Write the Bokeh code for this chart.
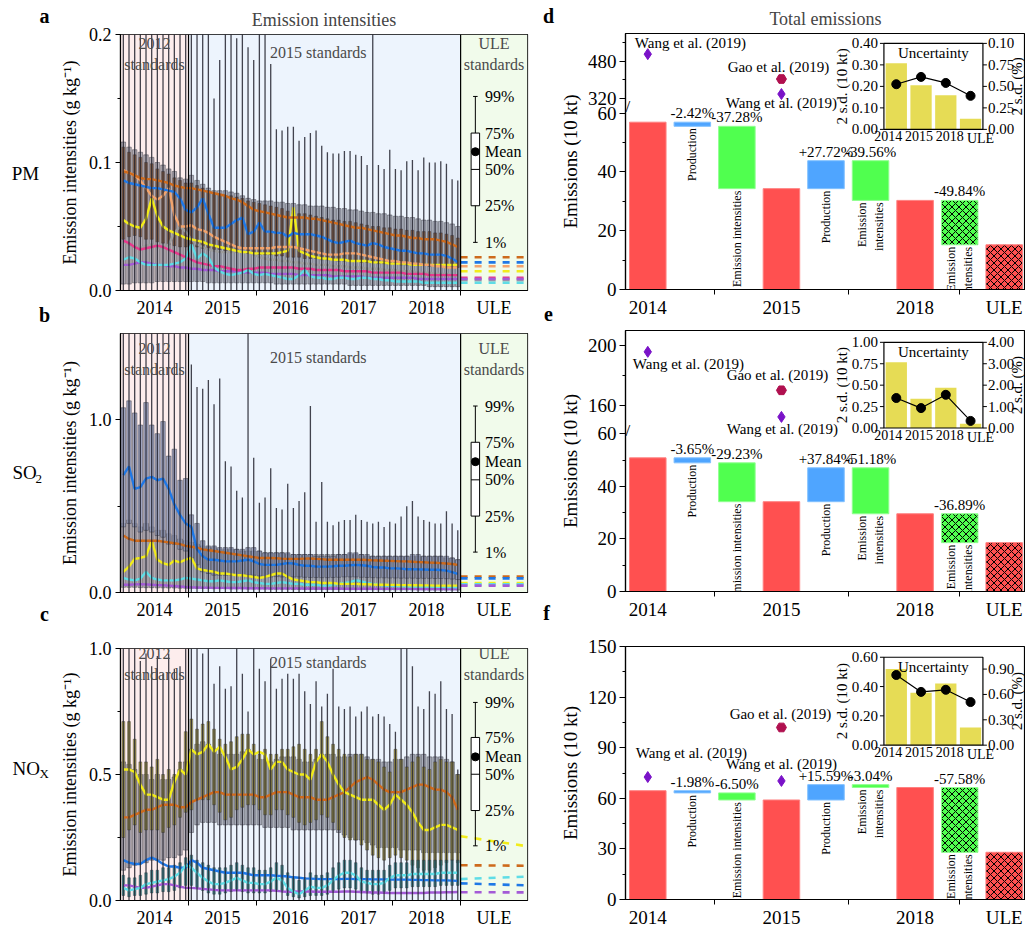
import math
from bokeh.plotting import figure
from bokeh.layouts import row, column
from bokeh.models import (Range1d, FixedTicker, Label, BoxAnnotation, Span, NumeralTickFormatter)
from bokeh.core.properties import value
from bokeh.embed import file_html
from bokeh.resources import INLINE

FONT = "Liberation Serif"

# ------------------------------------------------------------------ data
years = ["2014", "2015", "2016", "2017", "2018"]
ule_name = "ULE"

# ---- PM (g/kg), monthly Jan-2014 .. Dec-2018
pm_whisk_hi = [0.21] * 12 + [
    0.21, 0.21, 0.21, 0.21, 0.150, 0.180, 0.21, 0.21, 0.197, 0.21, 0.190, 0.180,
    0.21, 0.21, 0.177, 0.126, 0.125, 0.128, 0.128, 0.117, 0.120, 0.123, 0.125, 0.113,
    0.108, 0.107, 0.107, 0.109, 0.109, 0.106, 0.105, 0.098, 0.21, 0.098, 0.095, 0.110,
    0.095, 0.094, 0.101, 0.102, 0.094, 0.104, 0.100, 0.100, 0.101, 0.099, 0.087, 0.086]
pm_gray_hi = [
    0.116, 0.112, 0.110, 0.108, 0.106, 0.104, 0.100, 0.098, 0.095, 0.093, 0.088, 0.087,
    0.090, 0.086, 0.083, 0.080, 0.078, 0.078, 0.078, 0.077, 0.076, 0.074, 0.072, 0.071,
    0.070, 0.070, 0.070, 0.069, 0.069, 0.068, 0.068, 0.067, 0.067, 0.066, 0.066, 0.066,
    0.065, 0.065, 0.064, 0.064, 0.063, 0.063, 0.062, 0.061, 0.061, 0.060, 0.060, 0.059,
    0.058, 0.058, 0.057, 0.057, 0.056, 0.055, 0.055, 0.054, 0.054, 0.053, 0.052, 0.050]
pm_gray_lo = [
    0.005, 0.005, 0.006, 0.006, 0.006, 0.006, 0.007, 0.007, 0.007, 0.007, 0.007, 0.007,
    0.007, 0.007, 0.007, 0.006, 0.006, 0.006, 0.006, 0.006, 0.006, 0.006, 0.006, 0.006,
    0.006, 0.006, 0.006, 0.005, 0.005, 0.005, 0.005, 0.005, 0.005, 0.005, 0.005, 0.005,
    0.005, 0.005, 0.005, 0.005, 0.004, 0.004, 0.004, 0.004, 0.004, 0.004, 0.004, 0.004,
    0.004, 0.004, 0.004, 0.004, 0.004, 0.004, 0.003, 0.003, 0.003, 0.003, 0.003, 0.003]
pm_brbox_hi = [
    0.112, 0.108, 0.106, 0.104, 0.100, 0.099, 0.095, 0.093, 0.091, 0.088, 0.086, 0.084,
    0.084, 0.082, 0.080, 0.078, 0.076, 0.075, 0.074, 0.074, 0.073, 0.072, 0.070, 0.069,
    0.068, 0.067, 0.066, 0.065, 0.064, 0.062, 0.061, 0.060, 0.060, 0.059, 0.058, 0.057,
    0.056, 0.055, 0.055, 0.054, 0.054, 0.053, 0.052, 0.051, 0.050, 0.050, 0.049, 0.049,
    0.048, 0.048, 0.047, 0.047, 0.046, 0.046, 0.046, 0.045, 0.045, 0.044, 0.043, 0.041]
pm_brbox_lo = [
    0.040, 0.042, 0.043, 0.042, 0.040, 0.040, 0.038, 0.037, 0.036, 0.035, 0.034, 0.034,
    0.034, 0.034, 0.033, 0.033, 0.032, 0.032, 0.031, 0.031, 0.030, 0.030, 0.029, 0.029,
    0.028, 0.028, 0.028, 0.027, 0.027, 0.026, 0.026, 0.026, 0.025, 0.025, 0.025, 0.024,
    0.024, 0.024, 0.023, 0.023, 0.023, 0.023, 0.022, 0.022, 0.022, 0.021, 0.021, 0.021,
    0.021, 0.020, 0.020, 0.020, 0.020, 0.020, 0.019, 0.019, 0.019, 0.019, 0.018, 0.018]
pm_brown = [
    0.093, 0.092, 0.090, 0.088, 0.087, 0.087, 0.086, 0.085, 0.084, 0.082, 0.081, 0.080,
    0.080, 0.079, 0.078, 0.077, 0.076, 0.075, 0.074, 0.072, 0.071, 0.069, 0.066, 0.063,
    0.062, 0.061, 0.060, 0.059, 0.058, 0.057, 0.057, 0.057, 0.057, 0.056, 0.056, 0.055,
    0.054, 0.053, 0.052, 0.051, 0.050, 0.049, 0.049, 0.048, 0.047, 0.046, 0.045, 0.044,
    0.043, 0.043, 0.042, 0.041, 0.041, 0.040, 0.040, 0.040, 0.039, 0.038, 0.036, 0.034]
pm_blue = [
    0.086, 0.084, 0.083, 0.082, 0.081, 0.080, 0.080, 0.079, 0.078, 0.077, 0.072, 0.063,
    0.061, 0.065, 0.072, 0.060, 0.049, 0.049, 0.049, 0.052, 0.055, 0.057, 0.044, 0.046,
    0.053, 0.046, 0.046, 0.045, 0.045, 0.042, 0.045, 0.044, 0.044, 0.044, 0.043, 0.042,
    0.040, 0.038, 0.037, 0.038, 0.039, 0.037, 0.036, 0.035, 0.037, 0.036, 0.034, 0.033,
    0.032, 0.031, 0.031, 0.030, 0.029, 0.029, 0.028, 0.028, 0.028, 0.027, 0.025, 0.022]
pm_peach = [
    0.094, 0.092, 0.090, 0.086, 0.080, 0.074, 0.071, 0.074, 0.080, 0.059, 0.050, 0.050,
    0.051, 0.048, 0.047, 0.045, 0.042, 0.040, 0.038, 0.036, 0.034, 0.033, 0.033, 0.033,
    0.033, 0.033, 0.033, 0.034, 0.034, 0.034, 0.034, 0.033, 0.032, 0.031, 0.030, 0.029,
    0.028, 0.028, 0.028, 0.029, 0.029, 0.029, 0.028, 0.027, 0.026, 0.025, 0.024, 0.023,
    0.023, 0.022, 0.022, 0.021, 0.021, 0.020, 0.020, 0.019, 0.019, 0.018, 0.018, 0.018]
pm_yellow = [
    0.055, 0.052, 0.050, 0.049, 0.056, 0.072, 0.058, 0.050, 0.047, 0.045, 0.043, 0.041,
    0.040, 0.039, 0.038, 0.036, 0.035, 0.034, 0.033, 0.032, 0.031, 0.030, 0.030, 0.029,
    0.029, 0.029, 0.029, 0.029, 0.030, 0.031, 0.065, 0.031, 0.029, 0.027, 0.026, 0.025,
    0.025, 0.024, 0.024, 0.024, 0.023, 0.023, 0.023, 0.023, 0.022, 0.022, 0.022, 0.021,
    0.021, 0.021, 0.021, 0.020, 0.020, 0.020, 0.020, 0.020, 0.020, 0.020, 0.020, 0.020]
pm_pink = [
    0.039, 0.037, 0.034, 0.032, 0.033, 0.034, 0.035, 0.034, 0.032, 0.030, 0.028, 0.026,
    0.024, 0.022, 0.021, 0.020, 0.019, 0.019, 0.018, 0.017, 0.016, 0.016, 0.017, 0.017,
    0.018, 0.018, 0.018, 0.018, 0.018, 0.018, 0.018, 0.017, 0.017, 0.017, 0.016, 0.016,
    0.016, 0.016, 0.016, 0.015, 0.015, 0.015, 0.015, 0.015, 0.014, 0.014, 0.014, 0.014,
    0.014, 0.014, 0.013, 0.013, 0.013, 0.013, 0.012, 0.012, 0.012, 0.012, 0.012, 0.012]
pm_gray = [
    0.038, 0.036, 0.034, 0.033, 0.035, 0.036, 0.034, 0.033, 0.036, 0.045, 0.050, 0.046,
    0.040, 0.036, 0.034, 0.032, 0.031, 0.030, 0.030, 0.030, 0.031, 0.031, 0.030, 0.028,
    0.026, 0.025, 0.024, 0.024, 0.023, 0.023, 0.022, 0.022, 0.021, 0.021, 0.020, 0.020,
    0.020, 0.019, 0.019, 0.019, 0.018, 0.018, 0.018, 0.017, 0.017, 0.017, 0.016, 0.016,
    0.016, 0.015, 0.015, 0.015, 0.014, 0.014, 0.014, 0.013, 0.013, 0.013, 0.012, 0.012]
pm_cyan = [
    0.024, 0.026, 0.025, 0.022, 0.020, 0.020, 0.020, 0.020, 0.020, 0.021, 0.022, 0.025,
    0.036, 0.025, 0.029, 0.026, 0.018, 0.015, 0.013, 0.012, 0.013, 0.014, 0.016, 0.013,
    0.012, 0.013, 0.012, 0.011, 0.010, 0.009, 0.009, 0.012, 0.016, 0.011, 0.010, 0.010,
    0.009, 0.009, 0.010, 0.010, 0.009, 0.009, 0.010, 0.010, 0.009, 0.009, 0.008, 0.008,
    0.007, 0.007, 0.007, 0.007, 0.007, 0.006, 0.006, 0.006, 0.006, 0.006, 0.006, 0.006]
pm_purple = [
    0.020, 0.020, 0.021, 0.022, 0.022, 0.021, 0.020, 0.020, 0.019, 0.019, 0.018, 0.018,
    0.017, 0.017, 0.016, 0.016, 0.016, 0.015, 0.015, 0.015, 0.015, 0.014, 0.014, 0.014,
    0.014, 0.014, 0.013, 0.013, 0.013, 0.013, 0.013, 0.012, 0.012, 0.012, 0.012, 0.012,
    0.012, 0.011, 0.011, 0.011, 0.011, 0.011, 0.011, 0.010, 0.010, 0.010, 0.010, 0.010,
    0.010, 0.010, 0.010, 0.010, 0.009, 0.009, 0.009, 0.009, 0.009, 0.009, 0.009, 0.009]
pm_ule_colors = ["brown", "blue", "peach", "yellow", "pink", "gray", "cyan", "purple"]
pm_ule_start = [0.026, 0.022, 0.019, 0.015, 0.010, 0.008, 0.006, 0.009]
pm_ule_end = [0.026, 0.022, 0.019, 0.015, 0.010, 0.008, 0.006, 0.009]

# ---- SO2
so2_whisk_hi = [1.55] * 12 + [
    1.32, 1.19, 1.18, 1.23, 1.09, 1.24, 0.76, 0.73, 0.59, 0.55, 1.55, 0.78,
    0.52, 0.55, 0.72, 0.49, 0.48, 0.63, 0.49, 0.53, 0.58, 1.08, 0.41, 0.64,
    0.41, 0.39, 0.41, 0.42, 0.42, 0.45, 0.42, 0.41, 0.40, 0.41, 0.38, 0.41,
    0.40, 0.44, 0.50, 0.53, 0.44, 0.42, 0.41, 0.40, 0.40, 0.47, 0.40, 0.36]
so2_gray_hi = [
    0.40, 0.42, 0.40, 0.38, 0.40, 0.38, 0.36, 0.36, 0.34, 0.33, 0.31, 0.30,
    0.29, 0.28, 0.27, 0.26, 0.26, 0.25, 0.25, 0.25, 0.25, 0.24, 0.24, 0.24,
    0.24, 0.23, 0.23, 0.23, 0.23, 0.22, 0.22, 0.22, 0.22, 0.22, 0.22, 0.22,
    0.22, 0.22, 0.22, 0.22, 0.22, 0.22, 0.22, 0.21, 0.21, 0.21, 0.21, 0.21,
    0.21, 0.21, 0.21, 0.21, 0.21, 0.21, 0.21, 0.21, 0.21, 0.20, 0.20, 0.19]
so2_gray_lo = [
    0.030, 0.030, 0.030, 0.028, 0.028, 0.028, 0.027, 0.027, 0.026, 0.026, 0.025, 0.025,
    0.024, 0.024, 0.023, 0.023, 0.022, 0.022, 0.022, 0.021, 0.021, 0.021, 0.020, 0.020,
    0.020, 0.020, 0.019, 0.019, 0.019, 0.019, 0.018, 0.018, 0.018, 0.018, 0.018, 0.017,
    0.017, 0.017, 0.017, 0.017, 0.016, 0.016, 0.016, 0.016, 0.016, 0.016, 0.015, 0.015,
    0.015, 0.015, 0.015, 0.015, 0.015, 0.015, 0.014, 0.014, 0.014, 0.014, 0.014, 0.014]
so2_slate_hi = [
    1.07, 1.11, 1.04, 0.97, 1.10, 0.97, 0.92, 0.99, 0.79, 0.83, 0.65, 0.66,
    0.45, 0.40, 0.30, 0.27, 0.27, 0.26, 0.26, 0.26, 0.25, 0.25, 0.26, 0.26,
    0.24, 0.23, 0.23, 0.23, 0.23, 0.23, 0.22, 0.22, 0.22, 0.22, 0.21, 0.21,
    0.21, 0.21, 0.22, 0.22, 0.23, 0.23, 0.22, 0.22, 0.21, 0.21, 0.21, 0.21,
    0.21, 0.21, 0.21, 0.22, 0.22, 0.21, 0.21, 0.21, 0.21, 0.21, 0.20, 0.19]
so2_slate_lo = [
    0.38, 0.40, 0.38, 0.35, 0.36, 0.35, 0.33, 0.32, 0.28, 0.28, 0.25, 0.24,
    0.20, 0.16, 0.12, 0.11, 0.10, 0.10, 0.10, 0.10, 0.10, 0.10, 0.10, 0.10,
    0.095, 0.090, 0.090, 0.092, 0.090, 0.088, 0.090, 0.090, 0.088, 0.087, 0.087, 0.086,
    0.086, 0.087, 0.088, 0.090, 0.090, 0.090, 0.088, 0.087, 0.086, 0.085, 0.085, 0.084,
    0.084, 0.083, 0.083, 0.083, 0.082, 0.082, 0.082, 0.081, 0.081, 0.080, 0.078, 0.075]
so2_blue = [
    0.68, 0.73, 0.60, 0.61, 0.66, 0.67, 0.65, 0.66, 0.60, 0.51, 0.45, 0.40,
    0.38, 0.25, 0.21, 0.19, 0.19, 0.185, 0.18, 0.18, 0.18, 0.185, 0.19, 0.18,
    0.165, 0.16, 0.16, 0.16, 0.165, 0.17, 0.168, 0.16, 0.155, 0.155, 0.15, 0.15,
    0.15, 0.152, 0.155, 0.155, 0.158, 0.16, 0.158, 0.155, 0.148, 0.145, 0.145, 0.14,
    0.14, 0.138, 0.135, 0.135, 0.134, 0.133, 0.132, 0.132, 0.13, 0.127, 0.118, 0.108]
so2_brown = [
    0.33, 0.31, 0.30, 0.30, 0.30, 0.30, 0.30, 0.295, 0.29, 0.285, 0.28, 0.27,
    0.265, 0.26, 0.25, 0.245, 0.24, 0.235, 0.23, 0.225, 0.22, 0.215, 0.21, 0.205,
    0.20, 0.20, 0.20, 0.198, 0.196, 0.195, 0.195, 0.195, 0.196, 0.197, 0.195, 0.193,
    0.19, 0.19, 0.19, 0.19, 0.19, 0.19, 0.19, 0.188, 0.186, 0.185, 0.184, 0.183,
    0.182, 0.18, 0.18, 0.178, 0.176, 0.175, 0.173, 0.172, 0.17, 0.168, 0.165, 0.16]
so2_yellow = [
    0.12, 0.15, 0.195, 0.20, 0.21, 0.30, 0.19, 0.17, 0.16, 0.185, 0.175, 0.19,
    0.20, 0.14, 0.13, 0.125, 0.12, 0.11, 0.11, 0.105, 0.10, 0.10, 0.095, 0.09,
    0.085, 0.09, 0.10, 0.11, 0.11, 0.09, 0.075, 0.07, 0.065, 0.06, 0.06, 0.055,
    0.055, 0.055, 0.05, 0.05, 0.05, 0.05, 0.048, 0.048, 0.046, 0.045, 0.045, 0.044,
    0.044, 0.043, 0.043, 0.042, 0.042, 0.041, 0.041, 0.04, 0.04, 0.04, 0.04, 0.04]
so2_cyan = [
    0.085, 0.075, 0.07, 0.08, 0.12, 0.085, 0.075, 0.07, 0.07, 0.07, 0.075, 0.085,
    0.08, 0.075, 0.07, 0.065, 0.065, 0.07, 0.065, 0.06, 0.06, 0.065, 0.07, 0.06,
    0.055, 0.05, 0.05, 0.055, 0.06, 0.055, 0.05, 0.05, 0.045, 0.045, 0.045, 0.04,
    0.04, 0.045, 0.05, 0.055, 0.06, 0.07, 0.065, 0.055, 0.05, 0.045, 0.04, 0.04,
    0.038, 0.037, 0.036, 0.035, 0.035, 0.034, 0.034, 0.033, 0.033, 0.032, 0.031, 0.03]
so2_purple = [
    0.045, 0.045, 0.047, 0.048, 0.047, 0.045, 0.043, 0.042, 0.040, 0.038, 0.035, 0.032,
    0.030, 0.029, 0.028, 0.028, 0.027, 0.027, 0.027, 0.026, 0.026, 0.026, 0.025, 0.025,
    0.025, 0.025, 0.024, 0.024, 0.024, 0.024, 0.024, 0.024, 0.023, 0.023, 0.023, 0.023,
    0.023, 0.023, 0.023, 0.022, 0.022, 0.022, 0.022, 0.022, 0.022, 0.021, 0.021, 0.021,
    0.021, 0.021, 0.021, 0.021, 0.020, 0.020, 0.020, 0.020, 0.020, 0.020, 0.020, 0.020]
so2_ule_colors = ["brown", "blue", "yellow", "cyan", "purple"]
so2_ule_start = [0.092, 0.082, 0.055, 0.047, 0.040]
so2_ule_end = [0.092, 0.082, 0.055, 0.047, 0.040]

# ---- NOx
nox_whisk_hi = [
    1.0, 1.0, 1.0, 0.95, 0.98, 0.93, 0.97, 0.90, 0.98, 0.92, 0.93, 1.0,
    1.0, 1.0, 0.98, 1.0, 0.86, 0.93, 0.84, 0.85, 1.0, 0.90, 0.75, 1.0,
    0.92, 0.87, 0.96, 0.84, 0.88, 0.90, 0.88, 0.90, 0.83, 0.78, 0.87, 0.77,
    0.82, 0.92, 0.77, 0.76, 0.77, 0.73, 0.75, 0.77, 0.73, 0.74, 0.73, 0.70,
    0.67, 1.0, 1.0, 0.93, 0.77, 0.76, 0.83, 0.82, 0.87, 0.76, 0.74, 0.52]
nox_gray_hi = [
    0.55, 0.54, 0.52, 0.50, 0.50, 0.48, 0.50, 0.48, 0.48, 0.49, 0.52, 0.55,
    0.60, 0.62, 0.63, 0.62, 0.60, 0.58, 0.58, 0.58, 0.58, 0.59, 0.60, 0.58,
    0.56, 0.56, 0.55, 0.56, 0.57, 0.57, 0.57, 0.56, 0.55, 0.55, 0.56, 0.58,
    0.58, 0.58, 0.57, 0.57, 0.58, 0.58, 0.58, 0.57, 0.56, 0.56, 0.55, 0.55,
    0.56, 0.56, 0.57, 0.58, 0.58, 0.58, 0.57, 0.57, 0.57, 0.56, 0.55, 0.50]
nox_gray_lo = [
    0.12, 0.13, 0.14, 0.15, 0.15, 0.16, 0.16, 0.16, 0.17, 0.17, 0.18, 0.20,
    0.27, 0.30, 0.31, 0.31, 0.31, 0.30, 0.30, 0.30, 0.30, 0.30, 0.30, 0.30,
    0.30, 0.29, 0.29, 0.29, 0.29, 0.29, 0.28, 0.28, 0.28, 0.28, 0.28, 0.28,
    0.28, 0.28, 0.27, 0.26, 0.25, 0.24, 0.24, 0.23, 0.22, 0.21, 0.21, 0.21,
    0.21, 0.20, 0.20, 0.20, 0.20, 0.19, 0.19, 0.19, 0.19, 0.19, 0.19, 0.19]
nox_olive_hi = [
    0.71, 0.71, 0.64, 0.55, 0.55, 0.53, 0.56, 0.50, 0.52, 0.50, 0.55, 0.67,
    0.72, 0.68, 0.70, 0.71, 0.68, 0.64, 0.62, 0.63, 0.65, 0.66, 0.66, 0.62,
    0.58, 0.60, 0.58, 0.58, 0.60, 0.60, 0.61, 0.62, 0.60, 0.58, 0.60, 0.71,
    0.65, 0.62, 0.60, 0.58, 0.57, 0.58, 0.58, 0.56, 0.56, 0.55, 0.53, 0.51,
    0.60, 0.56, 0.53, 0.55, 0.57, 0.53, 0.52, 0.55, 0.56, 0.55, 0.55, 0.50]
nox_olive_lo = [
    0.25, 0.28, 0.30, 0.27, 0.28, 0.28, 0.28, 0.27, 0.29, 0.30, 0.33, 0.35,
    0.36, 0.40, 0.40, 0.40, 0.38, 0.35, 0.32, 0.33, 0.36, 0.37, 0.38, 0.38,
    0.36, 0.34, 0.34, 0.36, 0.36, 0.34, 0.33, 0.31, 0.30, 0.31, 0.32, 0.34,
    0.33, 0.31, 0.28, 0.25, 0.24, 0.24, 0.22, 0.20, 0.18, 0.17, 0.16, 0.17,
    0.18, 0.17, 0.16, 0.14, 0.13, 0.12, 0.12, 0.13, 0.14, 0.15, 0.16, 0.15]
nox_teal_hi = [
    0.10, 0.09, 0.09, 0.10, 0.11, 0.12, 0.12, 0.13, 0.13, 0.14, 0.15, 0.17,
    0.18, 0.16, 0.15, 0.14, 0.13, 0.13, 0.13, 0.14, 0.15, 0.14, 0.13, 0.13,
    0.12, 0.12, 0.13, 0.15, 0.14, 0.11, 0.09, 0.08, 0.09, 0.11, 0.10, 0.10,
    0.11, 0.13, 0.15, 0.16, 0.16, 0.15, 0.13, 0.12, 0.12, 0.12, 0.12, 0.14,
    0.15, 0.15, 0.15, 0.16, 0.16, 0.16, 0.16, 0.16, 0.16, 0.16, 0.16, 0.16]
nox_teal_lo = [
    0.020, 0.015, 0.020, 0.020, 0.025, 0.030, 0.030, 0.035, 0.035, 0.040, 0.050, 0.060,
    0.060, 0.050, 0.040, 0.030, 0.025, 0.025, 0.030, 0.035, 0.040, 0.035, 0.030, 0.030,
    0.030, 0.030, 0.035, 0.040, 0.035, 0.020, 0.015, 0.010, 0.015, 0.020, 0.020, 0.020,
    0.025, 0.035, 0.045, 0.050, 0.050, 0.045, 0.030, 0.030, 0.025, 0.025, 0.030, 0.040,
    0.050, 0.050, 0.050, 0.055, 0.055, 0.055, 0.055, 0.055, 0.060, 0.060, 0.060, 0.060]
nox_yellow = [
    0.52, 0.52, 0.51, 0.46, 0.42, 0.42, 0.41, 0.40, 0.40, 0.47, 0.52, 0.50,
    0.60, 0.58, 0.59, 0.62, 0.59, 0.61, 0.57, 0.52, 0.53, 0.56, 0.60, 0.58,
    0.59, 0.58, 0.52, 0.55, 0.55, 0.52, 0.51, 0.50, 0.50, 0.48, 0.55, 0.58,
    0.55, 0.50, 0.46, 0.43, 0.42, 0.41, 0.40, 0.40, 0.40, 0.38, 0.36, 0.38,
    0.42, 0.40, 0.38, 0.35, 0.31, 0.28, 0.28, 0.29, 0.30, 0.30, 0.29, 0.28]
nox_brown = [
    0.33, 0.33, 0.34, 0.35, 0.36, 0.36, 0.37, 0.38, 0.38, 0.38, 0.37, 0.37,
    0.39, 0.40, 0.41, 0.42, 0.43, 0.43, 0.42, 0.42, 0.42, 0.42, 0.42, 0.42,
    0.41, 0.41, 0.42, 0.43, 0.43, 0.43, 0.42, 0.41, 0.41, 0.41, 0.40, 0.40,
    0.40, 0.41, 0.42, 0.43, 0.45, 0.47, 0.48, 0.49, 0.48, 0.46, 0.44, 0.43,
    0.43, 0.43, 0.44, 0.45, 0.46, 0.46, 0.45, 0.44, 0.44, 0.43, 0.41, 0.36]
nox_blue = [
    0.16, 0.15, 0.145, 0.145, 0.16, 0.17, 0.16, 0.145, 0.135, 0.135, 0.13, 0.13,
    0.16, 0.15, 0.13, 0.125, 0.12, 0.115, 0.11, 0.11, 0.11, 0.11, 0.105, 0.10,
    0.10, 0.10, 0.10, 0.098, 0.097, 0.095, 0.092, 0.09, 0.088, 0.087, 0.086, 0.085,
    0.085, 0.085, 0.085, 0.086, 0.086, 0.085, 0.085, 0.085, 0.084, 0.084, 0.084, 0.083,
    0.083, 0.083, 0.083, 0.082, 0.082, 0.081, 0.081, 0.08, 0.08, 0.08, 0.079, 0.078]
nox_cyan = [
    0.05, 0.04, 0.045, 0.05, 0.065, 0.07, 0.075, 0.08, 0.085, 0.095, 0.11, 0.14,
    0.13, 0.11, 0.09, 0.075, 0.065, 0.065, 0.07, 0.08, 0.09, 0.08, 0.07, 0.07,
    0.065, 0.065, 0.075, 0.09, 0.08, 0.05, 0.035, 0.025, 0.04, 0.055, 0.05, 0.05,
    0.06, 0.08, 0.10, 0.11, 0.11, 0.10, 0.075, 0.07, 0.065, 0.065, 0.07, 0.09,
    0.10, 0.10, 0.10, 0.105, 0.105, 0.105, 0.105, 0.105, 0.11, 0.11, 0.11, 0.11]
nox_purple = [
    0.06, 0.06, 0.055, 0.05, 0.05, 0.055, 0.06, 0.065, 0.065, 0.06, 0.055, 0.05,
    0.05, 0.048, 0.046, 0.044, 0.042, 0.04, 0.04, 0.04, 0.04, 0.04, 0.04, 0.04,
    0.04, 0.04, 0.04, 0.038, 0.036, 0.035, 0.035, 0.036, 0.036, 0.036, 0.035, 0.035,
    0.035, 0.035, 0.035, 0.036, 0.036, 0.035, 0.034, 0.033, 0.032, 0.032, 0.031, 0.03,
    0.03, 0.03, 0.03, 0.03, 0.03, 0.03, 0.032, 0.032, 0.032, 0.033, 0.033, 0.034]
nox_ule_colors = ["yellow", "brown", "cyan", "blue", "purple"]
nox_ule_start = [0.255, 0.140, 0.085, 0.068, 0.033]
nox_ule_end = [0.215, 0.138, 0.095, 0.060, 0.032]

# ---- waterfall (10 kt): totals for 2014, 2015, 2018, ULE and production effects
wf_steps = ["2014", "Production", "Emission intensities", "2015", "Production",
            "Emission\nintensities", "2018", "Emission\nintensities", "ULE"]
d_totals = [56.9, 34.3, 30.3, 15.2]
d_prod = [-1.4, 9.5]
d_pct = ["-2.42%", "-37.28%", "+27.72%", "-39.56%", "-49.84%"]
e_totals = [50.9, 34.2, 29.6, 18.6]
e_prod = [-1.9, 12.9]
e_pct = ["-3.65%", "-29.23%", "+37.84%", "-51.18%", "-36.89%"]
f_totals = [64.5, 59.0, 66.4, 28.0]
f_prod = [-1.3, 9.1]
f_pct = ["-1.98%", "-6.50%", "+15.59%", "-3.04%", "-57.58%"]

ref_names = ["Wang et al. (2019)", "Gao et al. (2019)", "Wang et al. (2019)"]
ref_years = ["2014", "2015", "2015"]
ref_markers = ["diamond", "hex", "diamond"]
d_ref = [510, 404, 340]
e_ref = [195.6, 170, 152.3]
f_ref = [72.6, 102, 70.3]

unc_cats = ["2014", "2015", "2018", "ULE"]
d_unc_sd = [0.308, 0.205, 0.159, 0.050]
d_unc_pct = [0.525, 0.61, 0.54, 0.39]
e_unc_sd = [0.767, 0.340, 0.469, 0.050]
e_unc_pct = [1.40, 0.93, 1.55, 0.33]
f_unc_sd = [0.519, 0.357, 0.420, 0.120]
f_unc_pct = [0.83, 0.63, 0.655, 0.51]

# ------------------------------------------------------------------ layout / styles
COL = {"brown": "#CD6A1C", "blue": "#1F78E6", "peach": "#F4A46C", "yellow": "#F2EC1A",
       "pink": "#E8388C", "gray": "#9C9C9C", "cyan": "#5FDDE6", "purple": "#A35BD6"}
BOX = {"gray": ("#737585", 0.55, 0.80), "brown": ("#9A5A26", 0.75, 0.50),
       "slate": ("#8E96B6", 0.85, 0.80), "olive": ("#B4A437", 0.85, 0.50),
       "teal": ("#2A9FA2", 0.85, 0.45)}
RED, BLUE, GREEN = "#FF5050", "#4FA5FF", "#50FF4F"
ULE_W = 11.8
STRIP_L, LEFT_W, STRIP_M, RIGHT_W = 50, 485, 21, 469
L_BL, L_BR, R_BL = 70, 8, 65
STEP_PX = 45.0
LROWS = [(320, 34, 26), (302, 13, 26), (308, 26, 24)]
RROWS = [(320, 33, 28), (302, 10, 27), (308, 24, 25)]
ROW_Y = [0, 320, 622]
TOTAL_H = sum(r[0] for r in LROWS)
R_X0 = STRIP_L + LEFT_W + STRIP_M + R_BL
R_X1 = STRIP_L + LEFT_W + STRIP_M + RIGHT_W
INSET_X = (882, 982)
INSET_Y = [(43, 130), (342, 429), (657, 747)]


def style_axis(ax, size="18px", lab="18px"):
    ax.major_label_text_font = FONT
    ax.major_label_text_font_size = size
    ax.major_label_text_color = "black"
    ax.axis_label_text_font = FONT
    ax.axis_label_text_font_style = "normal"
    ax.axis_label_text_font_size = lab
    ax.axis_label_text_color = "black"
    ax.axis_line_color = "black"
    ax.axis_line_width = 1.2
    ax.major_tick_line_color = "black"
    ax.minor_tick_line_color = "black"


def strip(width, x0, items):
    s = figure(width=width, height=TOTAL_H, x_range=Range1d(0, width),
               y_range=Range1d(0, TOTAL_H), x_axis_type=None, y_axis_type=None, title=None,
               output_backend="svg", toolbar_location=None, min_border=0, min_border_left=0,
               min_border_right=0, min_border_top=0, min_border_bottom=0)
    s.outline_line_color = None
    s.background_fill_color = "white"
    for px, py, text, size, bold, align in items:
        s.add_layout(Label(x=px - x0, y=TOTAL_H - py, text=text, text_align=align,
                           text_baseline="middle", text_font=FONT, text_font_size=size,
                           text_font_style="bold" if bold else "normal", text_color="black"))
    return s


def left_panel(cfg, dims, title=None):
    h, bt, bb = dims
    n = len(cfg["whisk"])
    xm = [i + 0.5 for i in range(n)]
    x_end = n + ULE_W
    fh = h - bt - bb
    p = figure(width=LEFT_W, height=h, x_range=Range1d(0, x_end),
               y_range=Range1d(0, cfg["ymax"]), output_backend="svg", toolbar_location=None,
               title=title, min_border_left=L_BL, min_border_right=L_BR, min_border_top=bt,
               min_border_bottom=bb)
    if title:
        p.title.text_font = FONT
        p.title.text_font_size = "18px"
        p.title.text_font_style = "normal"
        p.title.align = "center"
        p.title.offset = -11
        p.title.standoff = 10
    p.xgrid.visible = False
    p.ygrid.visible = False
    p.outline_line_color = "black"
    p.outline_line_width = 1.2
    p.outline_line_alpha = 1
    p.add_layout(BoxAnnotation(left=0, right=12, fill_color="#FDEDED", fill_alpha=1,
                               line_alpha=0, level="underlay"))
    p.add_layout(BoxAnnotation(left=12, right=n, fill_color="#EDF4FD", fill_alpha=1,
                               line_alpha=0, level="underlay"))
    p.add_layout(BoxAnnotation(left=n, right=x_end, fill_color="#F1FBEB", fill_alpha=1,
                               line_alpha=0, level="underlay"))
    for lo, hi, kind in cfg["boxes"]:
        fc, fa, w = BOX[kind]
        p.vbar(x=xm, bottom=lo, top=hi, width=w, fill_color=fc, fill_alpha=fa,
               line_color="#2b2b36", line_width=0.7, line_alpha=0.6)
    for vals, c in cfg["lines"]:
        p.line(xm, vals, line_color=COL[c], line_width=2.4)
    p.segment(x0=xm, y0=0, x1=xm, y1=cfg["whisk"], line_color="#23232f", line_width=1.3,
              line_alpha=0.85)
    for c, v0, v1 in zip(cfg["ule_colors"], cfg["ule_start"], cfg["ule_end"]):
        p.line([n, x_end], [v0, v1], line_color=COL[c], line_width=2.6, line_dash="7 7")
    p.add_layout(Span(location=12, dimension="height", line_color="black", line_width=1.2))
    p.add_layout(Span(location=n, dimension="height", line_color="black", line_width=1.2))

    # legend key for the box plots
    ym = cfg["ymax"]
    wt, bt_, mean, med, bb_, wb = [f * ym for f in cfg["leg"]]
    lx = n + 2.6
    p.segment(x0=[lx, lx - 0.4, lx - 0.4], y0=[wb, wt, wb], x1=[lx, lx + 0.4, lx + 0.4],
              y1=[wt, wt, wb], line_color="black", line_width=1)
    p.quad(left=lx - 0.75, right=lx + 0.75, bottom=bb_, top=bt_, fill_color="white",
           line_color="black", line_width=1)
    p.segment(x0=lx - 0.75, y0=med, x1=lx + 0.75, y1=med, line_color="black", line_width=1)
    p.scatter([lx], [mean], size=8, color="black")
    p.text(x=[lx + 1.7] * 6, y=[wt, bt_, mean, med, bb_, wb],
           text=["99%", "75%", "Mean", "50%", "25%", "1%"], text_align="left",
           text_baseline="middle", text_font=value(FONT), text_font_size="16px",
           text_color="black")

    d1, d2 = cfg["std_dy"]
    for xv, dy, t in [(6, d1, "2012\nstandards"), (34.9, d2, "2015 standards"),
                      (n + ULE_W / 2, d1, "ULE\nstandards")]:
        p.add_layout(Label(x=xv, y=fh - dy, y_units="screen", text=t, text_align="center",
                           text_baseline="middle", text_font=FONT, text_font_size="16px",
                           text_color="#4a4a4a"))

    xt = [12 * i + 6 for i in range(len(years))] + [n + ULE_W / 2]
    p.xaxis.ticker = FixedTicker(ticks=xt, minor_ticks=[12 * (i + 1) for i in range(len(years))])
    p.xaxis.major_label_overrides = {t: lab for t, lab in zip(xt, years + [ule_name])}
    p.xaxis.major_tick_out = 0
    p.xaxis.major_tick_in = 0
    p.xaxis.minor_tick_out = 5
    p.xaxis.minor_tick_in = 0
    p.xaxis.major_label_standoff = 2
    p.yaxis.ticker = FixedTicker(ticks=cfg["yt"], minor_ticks=cfg["ymt"])
    p.yaxis.formatter = NumeralTickFormatter(format="0.0")
    p.yaxis.major_tick_out = 5
    p.yaxis.major_tick_in = 0
    p.yaxis.minor_tick_out = 3
    p.yaxis.minor_tick_in = 0
    p.yaxis.major_label_standoff = 4
    p.yaxis.axis_label = "Emission intensities (g kg\u207b\u00b9)"
    p.yaxis.axis_label_standoff = 6
    style_axis(p.xaxis[0])
    style_axis(p.yaxis[0])
    return p


def right_panel(cfg, dims, row_y, title=None):
    h, bt, bb = dims
    fw = RIGHT_W - R_BL
    x_end = -0.5 + fw / STEP_PX
    p = figure(width=RIGHT_W, height=h, x_range=Range1d(-0.5, x_end),
               y_range=Range1d(0, cfg["ylow"]), output_backend="svg", toolbar_location=None,
               title=title, min_border_left=R_BL, min_border_right=0, min_border_top=bt,
               min_border_bottom=bb)
    if title:
        p.title.text_font = FONT
        p.title.text_font_size = "18px"
        p.title.text_font_style = "normal"
        p.title.align = "center"
        p.title.standoff = 10
    p.xgrid.visible = False
    p.ygrid.visible = False
    p.outline_line_color = "black"
    p.outline_line_width = 1.2
    t = cfg["totals"]
    pr = cfg["prod"]
    p.vbar(x=[0, 3, 6], bottom=0, top=t[:3], width=0.82, fill_color=RED, line_color="#FF8080")
    p.vbar(x=[8], bottom=0, top=[t[3]], width=0.82, fill_color=RED, line_color="#FF8080",
           hatch_pattern="diagonal_cross", hatch_color="black", hatch_scale=7,
           hatch_weight=1.0)
    starts = [t[0], t[0] + pr[0], t[1], t[1] + pr[1], t[2]]
    ends = [t[0] + pr[0], t[1], t[1] + pr[1], t[2], t[3]]
    lows = [min(a, b) for a, b in zip(starts, ends)]
    highs = [max(a, b) for a, b in zip(starts, ends)]
    cx = [1, 2, 4, 5, 7]
    p.vbar(x=[1, 4], bottom=[lows[0], lows[2]], top=[highs[0], highs[2]], width=0.82,
           fill_color=BLUE, line_color="#80C0FF")
    p.vbar(x=[2, 5], bottom=[lows[1], lows[3]], top=[highs[1], highs[3]], width=0.82,
           fill_color=GREEN, line_color="#90FF90")
    p.vbar(x=[7], bottom=[lows[4]], top=[highs[4]], width=0.82, fill_color=GREEN,
           line_color="#90FF90", hatch_pattern="diagonal_cross", hatch_color="black",
           hatch_scale=7, hatch_weight=1.0)
    p.text(x=cx, y=highs, text=cfg["pct"], text_align="center", text_baseline="bottom",
           y_offset=-1, text_font=value(FONT), text_font_size="15px", text_color="black")
    p.text(x=cx, y=lows, text=[wf_steps[i] for i in cx], angle=math.pi / 2,
           text_align="right", text_baseline="middle", y_offset=2, text_font=value(FONT),
           text_font_size="12px", text_color="black", text_line_height=1.2)

    extra = {}
    rng = None
    if cfg.get("upper"):
        extra["upper"] = Range1d(*cfg["upper"])
        rng = "upper"

    # inset "Uncertainty" panel, drawn into sub-ranges of this frame
    fx0, fx1 = R_X0, R_X1
    fy0, fy1 = row_y + bt, row_y + h - bb
    bx0, bx1 = INSET_X
    by0, by1 = cfg["inset_y"]
    ni = len(unc_cats)
    dx0, dx1 = -0.5, ni - 0.5
    sx = (dx1 - dx0) / (bx1 - bx0)
    extra_x = {"ix": Range1d(dx0 - (bx0 - fx0) * sx, dx1 + (fx1 - bx1) * sx)}

    def sub_y(dmax):
        sy = dmax / (by1 - by0)
        return Range1d(0 - (fy1 - by1) * sy, dmax + (by0 - fy0) * sy)
    extra["iy"] = sub_y(cfg["sd_max"])
    extra["ip"] = sub_y(cfg["pct_max"])
    p.extra_y_ranges = extra
    p.extra_x_ranges = extra_x

    # literature estimates
    xs = [wf_steps.index(y) for y in ref_years]
    for xv, yv, name, mk, (dx, dy, al) in zip(xs, cfg["ref"], ref_names, ref_markers,
                                                cfg["ref_off"]):
        col = "#7A12C8" if mk == "diamond" else "#B0104F"
        kw = dict(y_range_name=rng) if rng else {}
        p.scatter([xv], [yv], marker=mk, size=11 if mk == "diamond" else 10, fill_color=col,
                  line_color=col, **kw)
        p.text(x=[xv], y=[yv], text=[name], x_offset=dx, y_offset=dy, text_align=al,
               text_baseline="middle", text_font=value(FONT), text_font_size="15px",
               text_color="black", **kw)

    ik = dict(x_range_name="ix", y_range_name="iy")
    ipk = dict(x_range_name="ix", y_range_name="ip")
    idx = list(range(ni))
    sdm, pmx = cfg["sd_max"], cfg["pct_max"]
    p.quad(left=dx0, right=dx1, bottom=0, top=sdm, fill_color="white", line_color=None, **ik)
    p.vbar(x=idx, top=cfg["sd"], width=0.86, fill_color="#E6DC55", line_color=None, **ik)
    p.line(idx, cfg["unc_pct"], line_color="black", line_width=1.2, **ipk)
    p.scatter(idx, cfg["unc_pct"], size=9, color="black", **ipk)
    p.quad(left=dx0, right=dx1, bottom=0, top=sdm, fill_alpha=0, line_color="black",
           line_width=1.2, **ik)
    tl = 4 * sx
    st = cfg["sd_ticks"]
    p.segment(x0=[dx0] * len(st), y0=st, x1=[dx0 - tl] * len(st), y1=st, line_color="black", **ik)
    p.text(x=[dx0] * len(st), y=st, text=["%.2f" % v for v in st], x_offset=-6,
           text_align="right", text_baseline="middle", text_font=value(FONT),
           text_font_size="15px", text_color="black", **ik)
    pt = cfg["pct_ticks"]
    over = cfg.get("pct_over", {})
    p.segment(x0=[dx1] * len(pt), y0=pt, x1=[dx1 + tl] * len(pt), y1=pt, line_color="black", **ipk)
    p.text(x=[dx1] * len(pt), y=pt, text=[over.get(v, "%.2f" % v) for v in pt], x_offset=5,
           text_align="left", text_baseline="middle", text_font=value(FONT),
           text_font_size="15px", text_color="black", **ipk)
    p.text(x=idx, y=[0] * ni, text=unc_cats, x_offset=[i * 6 - 8 for i in idx], y_offset=2,
           text_align="center", text_baseline="top", text_font=value(FONT),
           text_font_size="14px", text_color="black", **ik)
    p.text(x=[dx0], y=[sdm / 2], text=["2 s.d. (10 kt)"], x_offset=-42, angle=math.pi / 2,
           text_align="center", text_baseline="middle", text_font=value(FONT),
           text_font_size="15px", text_color="black", **ik)
    p.text(x=[dx1], y=[pmx / 2], text=["2 s.d. (%)"], x_offset=34, angle=math.pi / 2,
           text_align="center", text_baseline="middle", text_font=value(FONT),
           text_font_size="15px", text_color="black", **ipk)
    p.text(x=[(dx0 + dx1) / 2], y=[sdm], text=["Uncertainty"], y_offset=10,
           text_align="center", text_baseline="middle", text_font=value(FONT),
           text_font_size="15px", text_color="black", **ik)

    # y axis (with a break for panels d and e)
    major = list(cfg["yt"])
    minor = list(cfg["ymt"])
    overrides = {}
    if rng:
        lo_, hi_ = cfg["upper"]

        def to_low(v):
            return round((v - lo_) / (hi_ - lo_) * cfg["ylow"], 4)
        for v in cfg["upt"]:
            major.append(to_low(v))
            overrides[to_low(v)] = str(v)
        minor += [to_low(v) for v in cfg["upmt"]]
        p.add_layout(Label(x=0, x_units="screen", y=cfg["brk"], text="//", text_align="center",
                           text_baseline="middle", text_font=FONT, text_font_size="17px",
                           text_color="black"))
    p.yaxis.ticker = FixedTicker(ticks=major, minor_ticks=minor)
    if overrides:
        p.yaxis.major_label_overrides = overrides
    p.yaxis.major_tick_out = 6
    p.yaxis.major_tick_in = 0
    p.yaxis.minor_tick_out = 3
    p.yaxis.minor_tick_in = 0
    p.yaxis.major_label_standoff = 3
    p.yaxis.axis_label = "Emissions (10 kt)"
    p.yaxis.axis_label_standoff = 4
    lab_x = [wf_steps.index(s) for s in ["2014", "2015", "2018", ule_name]]
    mids = [(a + b) / 2 for a, b in zip(lab_x[:-1], lab_x[1:])]
    p.xaxis.ticker = FixedTicker(ticks=lab_x, minor_ticks=mids)
    p.xaxis.major_label_overrides = {x: s for x, s in zip(lab_x, ["2014", "2015", "2018", ule_name])}
    p.xaxis.major_tick_out = 0
    p.xaxis.major_tick_in = 0
    p.xaxis.minor_tick_out = 5
    p.xaxis.minor_tick_in = 0
    p.xaxis.major_label_standoff = 2
    style_axis(p.xaxis[0], size="19px")
    style_axis(p.yaxis[0], size="19px", lab="19px")
    return p


# ------------------------------------------------------------------ build
pa = left_panel(dict(ymax=0.2, yt=[0.0, 0.1, 0.2], ymt=[0.05, 0.15], whisk=pm_whisk_hi,
                     boxes=[(pm_gray_lo, pm_gray_hi, "gray"), (pm_brbox_lo, pm_brbox_hi, "brown")],
                     lines=[(pm_purple, "purple"), (pm_gray, "gray"), (pm_pink, "pink"),
                            (pm_cyan, "cyan"), (pm_yellow, "yellow"), (pm_peach, "peach"),
                            (pm_blue, "blue"), (pm_brown, "brown")],
                     ule_colors=pm_ule_colors, ule_start=pm_ule_start, ule_end=pm_ule_end,
                     leg=[0.758, 0.615, 0.542, 0.473, 0.331, 0.188], std_dy=(23.5, 22)),
                LROWS[0], title="Emission intensities")
pb = left_panel(dict(ymax=1.5, yt=[0.0, 1.0], ymt=[0.5], whisk=so2_whisk_hi,
                     boxes=[(so2_gray_lo, so2_gray_hi, "gray"), (so2_slate_lo, so2_slate_hi, "slate")],
                     lines=[(so2_purple, "purple"), (so2_cyan, "cyan"), (so2_yellow, "yellow"),
                            (so2_brown, "brown"), (so2_blue, "blue")],
                     ule_colors=so2_ule_colors, ule_start=so2_ule_start, ule_end=so2_ule_end,
                     leg=[0.72, 0.58, 0.505, 0.435, 0.295, 0.156], std_dy=(29.5, 28)),
                LROWS[1])
pc = left_panel(dict(ymax=1.0, yt=[0.0, 0.5, 1.0], ymt=[0.25, 0.75], whisk=nox_whisk_hi,
                     boxes=[(nox_gray_lo, nox_gray_hi, "gray"), (nox_olive_lo, nox_olive_hi, "olive"),
                            (nox_teal_lo, nox_teal_hi, "teal")],
                     lines=[(nox_purple, "purple"), (nox_blue, "blue"), (nox_cyan, "cyan"),
                            (nox_brown, "brown"), (nox_yellow, "yellow")],
                     ule_colors=nox_ule_colors, ule_start=nox_ule_start, ule_end=nox_ule_end,
                     leg=[0.786, 0.647, 0.57, 0.501, 0.357, 0.217], std_dy=(21.5, 20)),
                LROWS[2])

pd_ = right_panel(dict(totals=d_totals, prod=d_prod, pct=d_pct, ref=d_ref, ylow=87.06,
                       upper=(-492.6, 597.9), yt=[0, 20, 40, 60], ymt=[10, 30, 50],
                       upt=[320, 480], upmt=[400, 560], brk=62.4,
                       ref_off=[(-13, -11, "left"), (-3, -12, "center"), (0, 9, "center")],
                       inset_y=INSET_Y[0], sd=d_unc_sd, unc_pct=d_unc_pct, sd_max=0.4,
                       pct_max=1.0, sd_ticks=[0.0, 0.1, 0.2, 0.3, 0.4],
                       pct_ticks=[0.0, 0.25, 0.5, 0.75, 1.0], pct_over={1.0: "0.10"}),
                  RROWS[0], ROW_Y[0], title="Total emissions")
pe = right_panel(dict(totals=e_totals, prod=e_prod, pct=e_pct, ref=e_ref, ylow=99.4,
                      upper=(36.1, 209.8), yt=[0, 20, 40, 60], ymt=[10, 30, 50],
                      upt=[160, 200], upmt=[180], brk=61.3,
                      ref_off=[(-15, 12, "left"), (-4, -15, "center"), (1, 12, "center")],
                      inset_y=INSET_Y[1], sd=e_unc_sd, unc_pct=e_unc_pct, sd_max=1.0,
                      pct_max=4.0, sd_ticks=[0.0, 0.25, 0.5, 0.75, 1.0],
                      pct_ticks=[0.0, 1.0, 2.0, 3.0, 4.0]),
                 RROWS[1], ROW_Y[1])
pf = right_panel(dict(totals=f_totals, prod=f_prod, pct=f_pct, ref=f_ref, ylow=150,
                      upper=None, yt=[0, 30, 60, 90, 120, 150], ymt=[15, 45, 75, 105, 135],
                      ref_off=[(-12, -24, "left"), (-1, -13, "center"), (0, -17, "center")],
                      inset_y=INSET_Y[2], sd=f_unc_sd, unc_pct=f_unc_pct, sd_max=0.6,
                      pct_max=1.04, sd_ticks=[0.0, 0.2, 0.4, 0.6],
                      pct_ticks=[0.0, 0.3, 0.6, 0.9]),
                 RROWS[2], ROW_Y[2])

strip_l = strip(STRIP_L, 0, [
    (44, 15, "a", "20px", True, "center"), (44, 314, "b", "20px", True, "center"),
    (44, 613, "c", "20px", True, "center"), (25, 173, "PM", "19px", False, "center"),
    (12, 472, "SO", "19px", False, "left"), (35, 478, "2", "13px", False, "left"),
    (12, 768, "NO", "19px", False, "left"), (39, 773, "X", "13px", False, "left")])
strip_m = strip(STRIP_M, STRIP_L + LEFT_W, [
    (548, 15, "d", "20px", True, "center"), (548, 313, "e", "20px", True, "center"),
    (546, 612, "f", "20px", True, "center")])

p = row(strip_l, column(pa, pb, pc), strip_m, column(pd_, pe, pf))
open("out.html", "w").write(file_html(p, INLINE))
